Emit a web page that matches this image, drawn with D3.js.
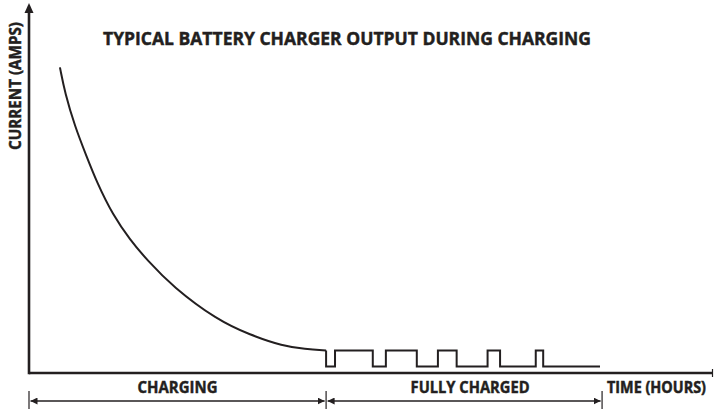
<!DOCTYPE html>
<html>
<head>
<meta charset="utf-8">
<script src="https://cdn.jsdelivr.net/npm/d3@7"></script>
<style>
  html, body { margin: 0; padding: 0; background: #fff; }
  svg { display: block; font-family: "Open Sans", sans-serif; font-weight: 700; }
  .lbl { fill: #231f20; stroke: #231f20; stroke-width: 0.45px; }
</style>
</head>
<body>
<div id="chart"></div>
<script>
// charging curve, hours vs amps
var chargeHours = [1.04, 1.21, 1.55, 1.92, 2.29, 2.82, 3.40, 3.97, 4.84, 6.32, 7.43, 8.54, 9.28, 9.99];
var chargeAmps  = [9.55, 8.75, 7.69, 6.81, 5.94, 4.94, 4.16, 3.53, 2.69, 1.66, 1.19, 0.84, 0.75, 0.70];

// maintenance pulses once the battery is full (step after each point)
var pulseHours = [9.99, 9.99, 10.29, 11.56, 12.0, 13.04, 13.75, 14.38, 15.42, 15.84, 17.04, 17.29, 19.2];
var pulseAmps  = [0.70, 0.20, 0.70, 0.20, 0.70, 0.20, 0.70, 0.20, 0.70, 0.20, 0.70, 0.20, 0.20];

var phaseLabels = ["CHARGING", "FULLY CHARGED"];
var phaseStart  = [0, 9.99];
var phaseEnd    = [9.99, 19.27];

var TITLE  = "TYPICAL BATTERY CHARGER OUTPUT DURING CHARGING";
var XLABEL = "TIME (HOURS)";
var YLABEL = "CURRENT (AMPS)";

var W = 714, H = 409;
var INK = "#231f20";

var svg = d3.select("#chart").append("svg")
    .attr("width", W).attr("height", H);

var x = d3.scaleLinear().domain([0, 23]).range([29, 713]);
var y = d3.scaleLinear().domain([0, 10]).range([373, 53]);

// arrow head marker for the phase brackets
var defs = svg.append("defs");
defs.append("marker")
    .attr("id", "arr")
    .attr("viewBox", "0 0 10 10")
    .attr("refX", 10).attr("refY", 5)
    .attr("markerWidth", 7).attr("markerHeight", 7)
    .attr("markerUnits", "userSpaceOnUse")
    .attr("orient", "auto-start-reverse")
    .append("path")
    .attr("d", "M0,0L10,5L0,10Z")
    .attr("fill", INK);

// title
svg.append("text")
    .attr("class", "lbl")
    .attr("x", 347).attr("y", 45)
    .attr("text-anchor", "middle")
    .attr("font-size", 18)
    .attr("textLength", 488).attr("lengthAdjust", "spacingAndGlyphs")
    .text(TITLE);

// axes
var y0 = y(0);
svg.append("line")
    .attr("x1", x(0)).attr("x2", x(0))
    .attr("y1", y0 + 1.2).attr("y2", 12)
    .attr("stroke", INK).attr("stroke-width", 2.6);
svg.append("path")
    .attr("d", "M" + (x(0) - 4.5) + ",13L" + x(0) + ",3L" + (x(0) + 4.5) + ",13Z")
    .attr("fill", INK);

svg.append("line")
    .attr("x1", x(0)).attr("x2", x(23))
    .attr("y1", y0).attr("y2", y0)
    .attr("stroke", INK).attr("stroke-width", 2.6);
svg.append("line")
    .attr("x1", x(23) - 0.5).attr("x2", x(23) - 0.5)
    .attr("y1", y0 - 4).attr("y2", y0 + 4)
    .attr("stroke", INK).attr("stroke-width", 1.2);

svg.append("text")
    .attr("class", "lbl")
    .attr("transform", "translate(21,86) rotate(-90)")
    .attr("text-anchor", "middle")
    .attr("font-size", 16.5)
    .attr("textLength", 128).attr("lengthAdjust", "spacingAndGlyphs")
    .text(YLABEL);

// x label sits tight against the right edge: smaller font, stretched vertically
svg.append("text")
    .attr("class", "lbl")
    .attr("transform", "translate(607,393) scale(1,1.14)")
    .attr("font-size", 14.5)
    .attr("textLength", 99).attr("lengthAdjust", "spacingAndGlyphs")
    .text(XLABEL);

// charging curve
var chargePts = chargeHours.map(function (h, i) { return [h, chargeAmps[i]]; });
var pulsePts  = pulseHours.map(function (h, i) { return [h, pulseAmps[i]]; });

var lineCurve = d3.line()
    .x(function (d) { return x(d[0]); })
    .y(function (d) { return y(d[1]); })
    .curve(d3.curveBasis);

svg.append("path")
    .datum(chargePts)
    .attr("d", lineCurve)
    .attr("fill", "none")
    .attr("stroke", INK)
    .attr("stroke-width", 2);

var lineStep = d3.line()
    .x(function (d) { return x(d[0]); })
    .y(function (d) { return y(d[1]); })
    .curve(d3.curveStepAfter);

svg.append("path")
    .datum(pulsePts)
    .attr("d", lineStep)
    .attr("fill", "none")
    .attr("stroke", INK)
    .attr("stroke-width", 2);

// phase brackets under the axis
var BY = 401;
var phases = svg.append("g").attr("class", "phases");
phaseLabels.forEach(function (lab, i) {
    var a = x(phaseStart[i]), b = x(phaseEnd[i]);
    phases.append("line")
        .attr("x1", a + 1.5).attr("x2", b - 1.5)
        .attr("y1", BY).attr("y2", BY)
        .attr("stroke", INK).attr("stroke-width", 1.6)
        .attr("marker-start", "url(#arr)")
        .attr("marker-end", "url(#arr)");
    phases.append("text")
        .attr("class", "lbl")
        .attr("x", (a + b) / 2 + (i === 0 ? 0 : 6)).attr("y", 393)
        .attr("text-anchor", "middle")
        .attr("font-size", 16.5)
        .attr("textLength", i === 0 ? 80 : 119).attr("lengthAdjust", "spacingAndGlyphs")
        .text(lab);
});
// end ticks of the brackets
var tickAt = [phaseStart[0], phaseEnd[0], phaseEnd[1]];
tickAt.forEach(function (t) {
    phases.append("line")
        .attr("x1", x(t)).attr("x2", x(t))
        .attr("y1", 391).attr("y2", 409)
        .attr("stroke", INK).attr("stroke-width", 1.2);
});
</script>
</body>
</html>
